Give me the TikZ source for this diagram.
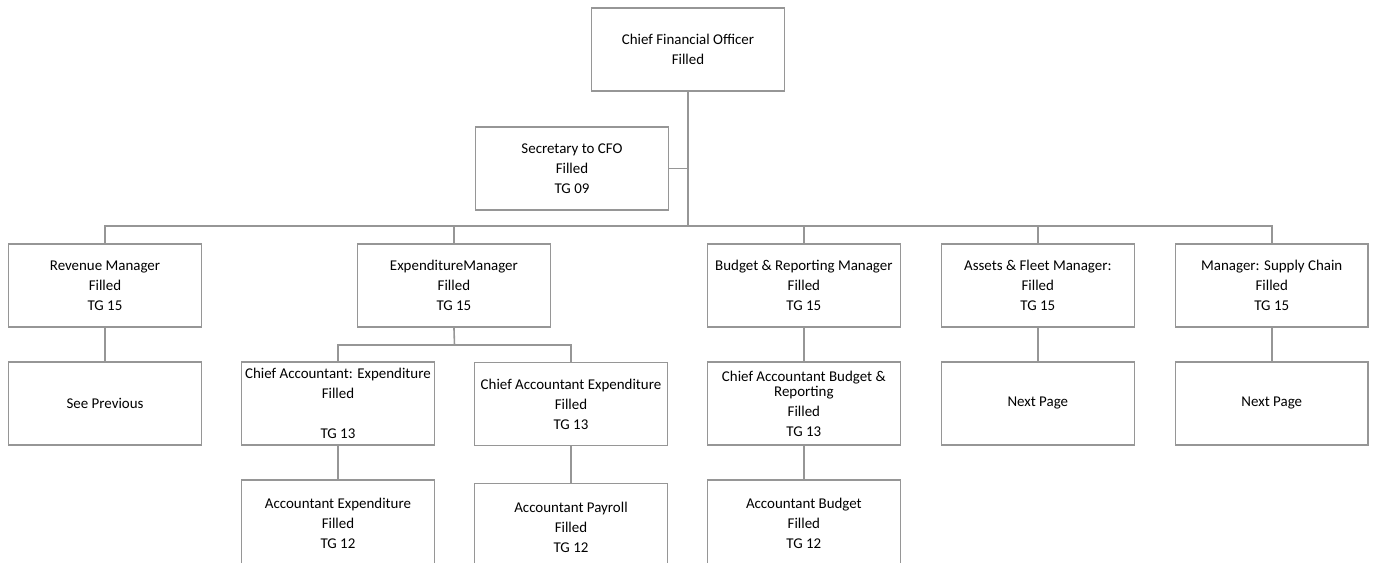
\documentclass[tikz,border=0pt]{standalone}
\usepackage{fontspec}
\setmainfont{Carlito}
\usetikzlibrary{positioning}
\definecolor{linegray}{RGB}{150,150,150}

\begin{document}
\begin{tikzpicture}[x=0.02cm, y=-0.02cm, font=\fontsize{8.5}{11.4}\selectfont,
  post/.style={draw=linegray, line width=0.9pt, align=center, inner sep=2pt, outer sep=0pt, minimum width=3.86cm, minimum height=1.66cm},
  lowpost/.style={post, minimum height=1.74cm},
  link/.style={draw=linegray, line width=0.9pt}]
  \useasboundingbox (0,0) rectangle (1374,563);
  \clip (0,0) rectangle (1374,563);
  \node[post] (cfo) at (688,49.5) {Chief Financial Officer\\Filled};
  \node[post] (sec) at (572,168.5) {Secretary to CFO\\Filled\\TG 09};
  \node[post] (rev) at (105,285.5) {Revenue Manager\\Filled\\TG 15};
  \node[post, right=3.12cm of rev] (exp) {ExpenditureManager\\Filled\\TG 15};
  \node[post, right=3.14cm of exp] (bud) {Budget \& Reporting Manager\\Filled\\TG 15};
  \node[post, right=0.82cm of bud] (ast) {Assets \& Fleet Manager:\\Filled\\TG 15};
  \node[post, right=0.82cm of ast] (sup) {Manager: Supply Chain\\Filled\\TG 15};
  \node[post, below=0.7cm of rev] (prev) {See Previous};
  \node[post] (caexp) at (338,403.5) {Chief Accountant: Expenditure\\Filled\\[11.4pt]TG 13};
  \node[post] (caexptwo) at (571,404) {Chief Accountant Expenditure\\Filled\\TG 13};
  \node[post, below=0.7cm of bud] (cabud) {Chief Accountant Budget \&\\[-2.9pt]Reporting\\Filled\\TG 13};
  \node[post, below=0.7cm of ast] (nextast) {Next Page};
  \node[post, below=0.7cm of sup] (nextsup) {Next Page};
  \node[lowpost, below=0.7cm of caexp] (accexp) {Accountant Expenditure\\Filled\\TG 12};
  \node[lowpost, below=0.76cm of caexptwo] (accpay) {Accountant Payroll\\Filled\\TG 12};
  \node[lowpost, below=0.7cm of cabud] (accbud) {Accountant Budget\\Filled\\TG 12};
  \coordinate (bus) at (688,226);
  \coordinate (subbus) at (454.5,345);
  % top of the tree
  \draw[link] (cfo.south) -- (cfo.south |- bus);
  \draw[link] (sec.east) -- (sec.east -| cfo.south);
  \draw[link] (rev.north) |- (bus) -| (sup.north);
  \draw[link] (exp.north) -- (exp.north |- bus);
  \draw[link] (bud.north) -- (bud.north |- bus);
  \draw[link] (ast.north) -- (ast.north |- bus);
  % under the managers
  \draw[link] (rev) -- (prev);
  \draw[link] (exp.south) -- (subbus);
  \draw[link] (caexp.north) |- (subbus) -| (caexptwo.north);
  \draw[link] (bud) -- (cabud);
  \draw[link] (ast) -- (nextast);
  \draw[link] (sup) -- (nextsup);
  \draw[link] (caexp) -- (accexp);
  \draw[link] (caexptwo) -- (accpay);
  \draw[link] (cabud) -- (accbud);
\end{tikzpicture}
\end{document}
